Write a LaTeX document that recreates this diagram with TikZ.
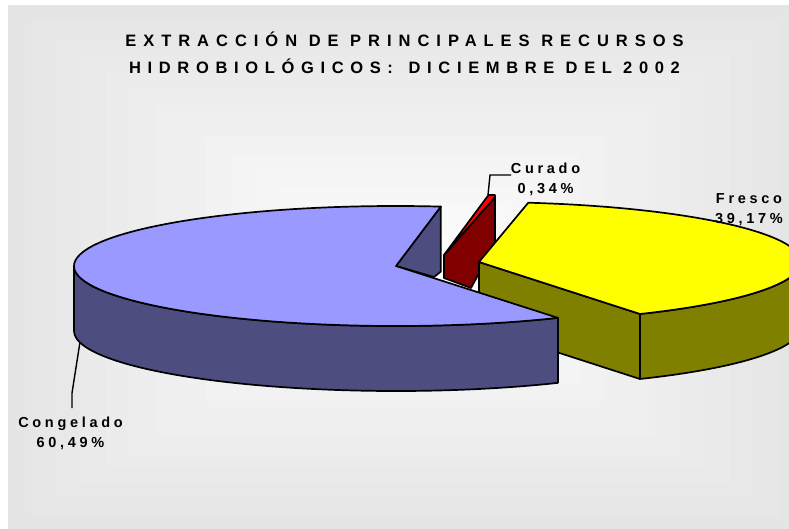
\documentclass[tikz,border=0pt]{standalone}
\usepackage{fontspec}
\setmainfont{Liberation Sans}
\definecolor{bluetop}{RGB}{153,153,255}
\definecolor{blueside}{RGB}{77,77,128}
\definecolor{yellowtop}{RGB}{255,255,0}
\definecolor{yellowside}{RGB}{128,128,0}
\definecolor{redtop}{RGB}{255,0,0}
\definecolor{redside}{RGB}{128,0,0}
\tikzset{
  edge/.style={draw=black,line width=1.7pt,line join=round},
  leader/.style={draw=black,line width=1.4pt},
  titletext/.style={font=\fontsize{16.5}{27}\selectfont\bfseries\addfontfeature{LetterSpace=42.3},align=center,inner sep=0pt,anchor=base},
  labeltext/.style={font=\fontsize{14.5}{19.5}\selectfont\bfseries\addfontfeature{LetterSpace=25.5},align=center,inner sep=0pt,anchor=base}
}
\begin{document}
\begin{tikzpicture}[x=1pt,y=1pt]
\useasboundingbox (0,-528) rectangle (789,0);
\begin{scope}
\clip (8,-528) rectangle (789,-5);
\foreach \k in {17,...,1}{
  \pgfmathsetmacro{\g}{int(round(255-26*min(\k,16)/16))}
  \fill[color={rgb,255:red,\g;green,\g;blue,\g}]
    ({405.5-24.95*\k},{-269+16.45*\k}) rectangle ({405.5+24.95*\k},{-269-16.45*\k});
}
\end{scope}
\begin{scope}
\clip (0,-528) rectangle (789,0);
% Curado
\fill[redside,edge] (444,-255) -- (495,-197) -- (495,-262) -- (478,-275) -- (471,-288) -- (444,-278) -- cycle;
\fill[redtop,edge] (444,-255) -- (488.5,-195) -- (495,-195) -- (495,-197) -- cycle;
% Fresco
\begin{scope}[shift={(479,-262)}]
\fill[yellowside,edge] (0,0) -- (161,-52) -- (161,-117) -- (0,-65) -- cycle;
\fill[yellowside,edge] (-60:322pt and 60pt) arc[start angle=-60,end angle=5,x radius=322,y radius=60]
  -- ++(0,-65) arc[start angle=5,end angle=-60,x radius=322,y radius=60] -- cycle;
\fill[yellowtop,edge] (0,0) -- (81.2:322pt and 60pt) arc[start angle=81.2,end angle=-60,x radius=322,y radius=60] -- cycle;
\end{scope}
% Congelado
\begin{scope}[shift={(396,-266)}]
\fill[blueside,edge] (0,0) -- (82:322pt and 60pt) -- ++(0,-65) -- (38,-11) -- cycle;
\fill[blueside,edge] (180:322pt and 60pt) arc[start angle=180,end angle=300.2,x radius=322,y radius=60]
  -- ++(0,-65) arc[start angle=300.2,end angle=180,x radius=322,y radius=60] -- cycle;
\fill[bluetop,edge] (0,0) -- (82:322pt and 60pt) arc[start angle=82,end angle=300.2,x radius=322,y radius=60] -- cycle;
\end{scope}
\end{scope}
% Labels
\node[titletext] (title) at (404.5,-73) {EXTRACCIÓN DE PRINCIPALES RECURSOS\\\addfontfeature{LetterSpace=40.3}HIDROBIOLÓGICOS:\ \hspace{4.5pt}DICIEMBRE DEL 2002};
\node[labeltext] (curado) at (545.5,-193) {Curado\\0,34\%};
\node[labeltext] (fresco) at (749,-223) {Fresco\\39,17\%};
\node[labeltext] (congelado) at (70.5,-447) {Congelado\\60,49\%};
% Leaders
\coordinate (curadoEnd) at (488,-195);
\coordinate (curadoKnee) at (490,-175);
\coordinate (curadoStart) at (511,-175);
\coordinate (congEnd) at (80,-342);
\coordinate (congKnee) at (72,-393);
\coordinate (congStart) at (72,-408);
\draw[leader] (curadoStart) -- (curadoKnee) -- (curadoEnd);
\draw[leader] (congStart) -- (congKnee) -- (congEnd);
\end{tikzpicture}
\end{document}
